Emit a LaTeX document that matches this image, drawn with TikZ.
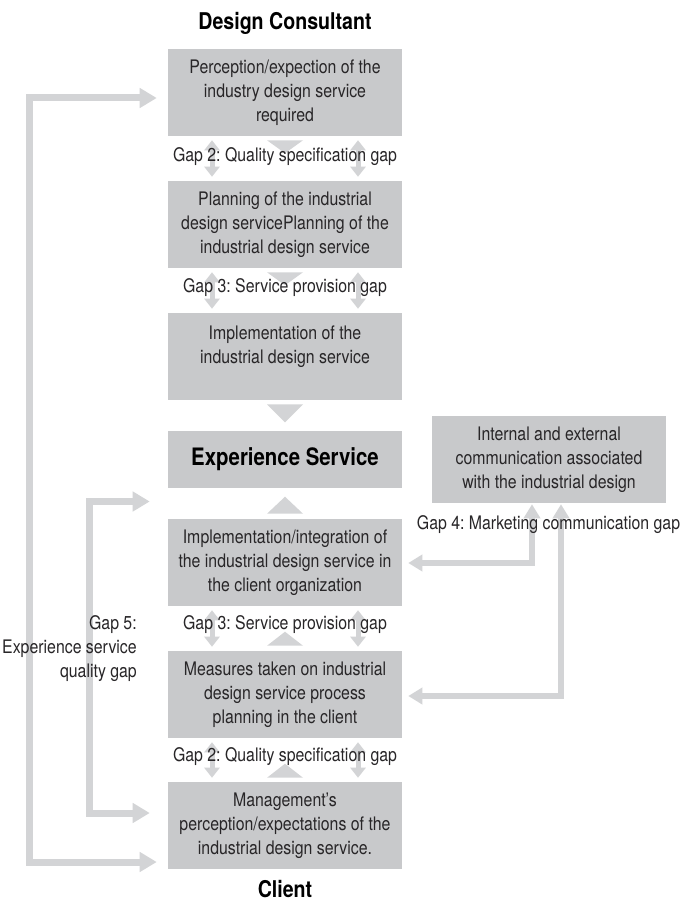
\documentclass[tikz,border=0pt]{standalone}
\usepackage{fontspec}
\setmainfont[FakeStretch=0.85]{TeX Gyre Heros}
\usetikzlibrary{arrows.meta,calc}
\definecolor{boxgray}{RGB}{200,201,203}
\definecolor{arrgray}{RGB}{211,212,214}
\definecolor{txt}{RGB}{40,38,40}
\frenchspacing
\begin{document}
\begin{tikzpicture}[x=0.75pt,y=-0.75pt,
  box/.style={fill=boxgray, minimum width=175.5pt, minimum height=65.25pt, inner sep=0pt, align=center, text=txt, font=\fontsize{14}{18}\selectfont},
  gaplabel/.style={text=txt, font=\fontsize{14}{18}\selectfont, inner sep=0pt},
  heading/.style={text=black, font=\fontsize{17.3}{20}\selectfont\bfseries, inner sep=0pt},
  tri/.style={fill=arrgray},
  dbl/.style={draw=arrgray, line width=3.75pt, {Triangle[width=11.25pt,length=7.5pt]}-{Triangle[width=11.25pt,length=7.5pt]}},
  big/.style={draw=arrgray, line width=5.25pt, line join=miter, {Triangle[width=14.25pt,length=12.75pt]}-{Triangle[width=14.25pt,length=12.75pt]}},
  med/.style={draw=arrgray, line width=4.5pt, line join=miter, {Triangle[width=12pt,length=10.5pt]}-{Triangle[width=12pt,length=10.5pt]}}
]
\useasboundingbox (0,0) rectangle (681,902);
\fill[white] (0,0) rectangle (681,902);

\node[heading] (dc) at (285,23) {Design Consultant};
\node[box] (b1) at (285,92.5) {Perception/expection of the\\industry design service\\required};
\node[box] (b2) at (285,224.5) {Planning of the industrial\\design servicePlanning of the\\industrial design service};
\node[box] (b3) at (285,356.5) {Implementation of the\\industrial design service\\\mbox{}};
\node[box, minimum height=42.75pt, font=\fontsize{18}{22}\selectfont\bfseries, text=black] (exp) at (285,459.5) {Experience Service};
\node[box] (b4) at (285,562.5) {Implementation/integration of\\the industrial design service in\\the client organization};
\node[box] (b5) at (285,694.5) {Measures taken on industrial\\design service process\\planning in the client};
\node[box] (b6) at (285,825.5) {Management’s\\perception/expectations of the\\industrial design service.};
\node[heading] (cl) at (285,889) {Client};
\node[box] (ie) at (549,459.5) {Internal and external\\communication associated\\with the industrial design};

% flow triangles
\fill[tri] ($(b1.south)+(-18,4)$) -- ++(36,0) -- ++(-18,13) -- cycle;
\fill[tri] ($(b2.south)+(-18,4)$) -- ++(36,0) -- ++(-18,13) -- cycle;
\fill[tri] ($(b3.south)+(-18,4)$) -- ++(36,0) -- ++(-18,18) -- cycle;
\fill[tri] ($(b4.north)+(-18,-5)$) -- ++(36,0) -- ++(-18,-17) -- cycle;
\fill[tri] ($(b5.north)+(-18,-5)$) -- ++(36,0) -- ++(-18,-14) -- cycle;
\fill[tri] ($(b6.north)+(-18,-4)$) -- ++(36,0) -- ++(-18,-14) -- cycle;

% gap double arrows
\foreach \a/\b in {b1/b2, b2/b3, b4/b5, b5/b6}{
  \draw[dbl] ($(\a.south)+(-73,4)$) -- ($(\b.north)+(-73,-4)$);
  \draw[dbl] ($(\a.south)+(73,4)$) -- ($(\b.north)+(73,-4)$);
}

% left loop arrows
\coordinate (o1) at ($(b1.west)+(-11,5.5)$);
\coordinate (o2) at ($(b6.west)+(-11,36.5)$);
\draw[big] (o1) -- ++(-127,0) |- (o2);
\coordinate (i1) at ($(exp.west)+(-18,42)$);
\coordinate (i2) at ($(b6.west)+(-18,-12.5)$);
\draw[big] (i1) -- ++(-60,0) |- (i2);

% right arrows
\coordinate (r1) at ($(b4.east)+(6,0.5)$);
\coordinate (r1t) at ($(ie.south)+(-17,1)$);
\draw[med] (r1) -| (r1t);
\coordinate (r2) at ($(b5.east)+(6,1.5)$);
\coordinate (r2t) at ($(ie.south)+(12,1)$);
\draw[med] (r2) -| (r2t);

% labels
\node[gaplabel] (g2a) at (285,157) {Gap 2: Quality specification gap};
\node[gaplabel] (g3a) at (285,288) {Gap 3: Service provision gap};
\node[gaplabel] (g3b) at (285,625) {Gap 3: Service provision gap};
\node[gaplabel] (g2b) at (285,757) {Gap 2: Quality specification gap};
\node[gaplabel] (g4) at (548.5,525) {Gap 4: Marketing communication gap};
\node[gaplabel, align=right, anchor=east] (g5) at (137,649) {Gap 5:\\Experience service\\quality gap};
\end{tikzpicture}
\end{document}
